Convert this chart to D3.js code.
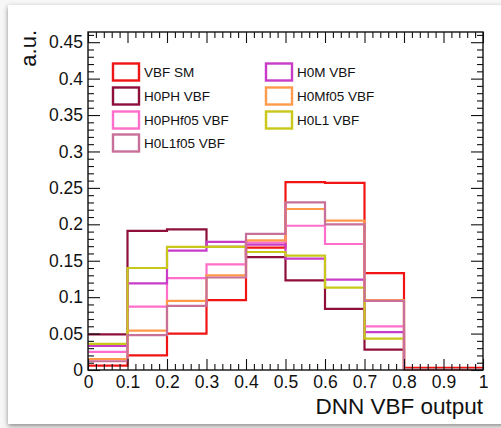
<!DOCTYPE html>
<html>
<head>
<meta charset="utf-8">
<script src="https://cdn.jsdelivr.net/npm/d3@7"></script>
<style>
  body { margin: 0; background: #f2f2f2; }
  svg { display: block; }
  text { font-family: "Liberation Sans", Arial, sans-serif; fill: #111; }
</style>
</head>
<body>
<div class="content"></div>
<script>
var size = {width: 501, height: 428};
var frame = {left: 88, right: 483, top: 32, bottom: 370};

// bin lower edges, width 0.1
var binEdges = [0, 0.1, 0.2, 0.3, 0.4, 0.5, 0.6, 0.7, 0.8, 0.9];
var binWidth = 0.1;

var names = ["VBF SM", "H0PH VBF", "H0PHf05 VBF", "H0L1f05 VBF", "H0M VBF", "H0Mf05 VBF", "H0L1 VBF"];
var colors = ["#f01414", "#8f0f3c", "#ff6ecb", "#c8709a", "#c83cc8", "#ff9a4a", "#c8c81a"];

var vbfSM   = [0.006, 0.020, 0.050, 0.096, 0.168, 0.258, 0.257, 0.133, 0.003, 0.003];
var h0PH    = [0.049, 0.191, 0.193, 0.169, 0.155, 0.123, 0.084, 0.028, 0.001, 0.001];
var h0PHf05 = [0.025, 0.087, 0.126, 0.145, 0.175, 0.198, 0.173, 0.060, 0.001, 0.001];
var h0L1f05 = [0.012, 0.048, 0.088, 0.127, 0.187, 0.230, 0.200, 0.095, 0.001, 0.001];
var h0M     = [0.033, 0.119, 0.164, 0.176, 0.172, 0.153, 0.124, 0.052, 0.001, 0.001];
var h0Mf05  = [0.015, 0.054, 0.095, 0.130, 0.178, 0.221, 0.205, 0.096, 0.001, 0.001];
var h0L1    = [0.036, 0.140, 0.169, 0.169, 0.162, 0.157, 0.113, 0.043, 0.001, 0.001];

var seriesValues = [vbfSM, h0PH, h0PHf05, h0L1f05, h0M, h0Mf05, h0L1];
// drawing order (last on top)
var drawOrder = [0, 1, 2, 4, 5, 6, 3];

var xTicks = [0, 0.1, 0.2, 0.3, 0.4, 0.5, 0.6, 0.7, 0.8, 0.9, 1];
var xTickLabels = ["0", "0.1", "0.2", "0.3", "0.4", "0.5", "0.6", "0.7", "0.8", "0.9", "1"];
var yTicks = [0, 0.05, 0.1, 0.15, 0.2, 0.25, 0.3, 0.35, 0.4, 0.45];
var yTickLabels = ["0", "0.05", "0.1", "0.15", "0.2", "0.25", "0.3", "0.35", "0.4", "0.45"];
var yMax = 0.464;

var chart = d3.select('.content')
    .append('svg')
    .attr('width', size.width)
    .attr('height', size.height);

// card with shadow
var defs = chart.append('defs');
var f = defs.append('filter').attr('id', 'shadow')
    .attr('x', '-5%').attr('y', '-5%').attr('width', '110%').attr('height', '110%');
f.append('feDropShadow').attr('dx', 0).attr('dy', 2).attr('stdDeviation', 2.5)
    .attr('flood-color', '#000').attr('flood-opacity', 0.45);
chart.append('rect').attr('width', size.width).attr('height', size.height).attr('fill', '#f7f7f7');
chart.append('rect')
    .attr('x', 8).attr('y', 5).attr('width', 520).attr('height', 419)
    .attr('fill', '#fff')
    .attr('filter', 'url(#shadow)');

var xScale = d3.scaleLinear().domain([0, 1]).range([frame.left, frame.right]);
var yScale = d3.scaleLinear().domain([0, yMax]).range([frame.bottom, frame.top]);

// histograms
var line = d3.line()
    .x(function(d) { return xScale(d[0]); })
    .y(function(d) { return yScale(d[1]); })
    .curve(d3.curveStepAfter);

var plot = chart.append('g');
drawOrder.forEach(function(i) {
    var vals = seriesValues[i];
    var pts = binEdges.map(function(e, j) { return [e, vals[j]]; });
    pts.push([binEdges[binEdges.length - 1] + binWidth, vals[vals.length - 1]]);
    plot.append('path')
        .attr('d', line(pts))
        .attr('fill', 'none')
        .attr('stroke', colors[i])
        .attr('stroke-width', 2.2);
});

// axes
function styleAxis(g) {
    g.selectAll('.domain').remove();
    g.selectAll('.tick line').attr('stroke', '#111').attr('stroke-width', 1.1);
    g.selectAll('text').attr('font-size', 17.5).attr('fill', '#111')
        .attr('font-family', '"Liberation Sans", Arial, sans-serif');
}
var minorX = d3.range(0, 1.0001, 0.02).filter(function(v) { return Math.abs(v * 10 - Math.round(v * 10)) > 1e-6; });
var minorY = d3.range(0, 0.4601, 0.01).filter(function(v) { return Math.abs(v * 20 - Math.round(v * 20)) > 1e-6; });

chart.append('g').attr('transform', 'translate(0,' + frame.bottom + ')')
    .call(d3.axisBottom(xScale).tickValues(xTicks).tickSize(-11).tickPadding(6)
        .tickFormat(function(d, i) { return xTickLabels[i]; }))
    .call(styleAxis);
chart.append('g').attr('transform', 'translate(0,' + frame.bottom + ')')
    .call(d3.axisBottom(xScale).tickValues(minorX).tickSize(-6).tickFormat(''))
    .call(styleAxis);
chart.append('g').attr('transform', 'translate(0,' + frame.top + ')')
    .call(d3.axisTop(xScale).tickValues(xTicks).tickSize(-11).tickFormat(''))
    .call(styleAxis);
chart.append('g').attr('transform', 'translate(0,' + frame.top + ')')
    .call(d3.axisTop(xScale).tickValues(minorX).tickSize(-6).tickFormat(''))
    .call(styleAxis);

chart.append('g').attr('transform', 'translate(' + frame.left + ',0)')
    .call(d3.axisLeft(yScale).tickValues(yTicks).tickSize(-12).tickPadding(5)
        .tickFormat(function(d, i) { return yTickLabels[i]; }))
    .call(styleAxis);
chart.append('g').attr('transform', 'translate(' + frame.left + ',0)')
    .call(d3.axisLeft(yScale).tickValues(minorY).tickSize(-6).tickFormat(''))
    .call(styleAxis);
chart.append('g').attr('transform', 'translate(' + frame.right + ',0)')
    .call(d3.axisRight(yScale).tickValues(yTicks).tickSize(-12).tickFormat(''))
    .call(styleAxis);
chart.append('g').attr('transform', 'translate(' + frame.right + ',0)')
    .call(d3.axisRight(yScale).tickValues(minorY).tickSize(-6).tickFormat(''))
    .call(styleAxis);

// frame
chart.append('rect')
    .attr('x', frame.left).attr('y', frame.top)
    .attr('width', frame.right - frame.left).attr('height', frame.bottom - frame.top)
    .attr('fill', 'none').attr('stroke', '#111').attr('stroke-width', 1.4);

// axis titles
chart.append('text')
    .attr('x', frame.right).attr('y', 414)
    .attr('text-anchor', 'end')
    .attr('font-size', 22.5)
    .text('DNN VBF output');
chart.append('text')
    .attr('transform', 'translate(36,30) rotate(-90)')
    .attr('text-anchor', 'end')
    .attr('font-size', 22)
    .text('a.u.');

// legend
var legendPos = [[113, 72], [113, 96], [113, 120], [113, 143], [266, 72], [266, 96], [266, 120]];
var legend = chart.append('g');
names.forEach(function(n, i) {
    var p = legendPos[i];
    legend.append('rect')
        .attr('x', p[0]).attr('y', p[1] - 8.5)
        .attr('width', 26).attr('height', 17)
        .attr('fill', 'none').attr('stroke', colors[i]).attr('stroke-width', 2.4);
    legend.append('text')
        .attr('x', p[0] + 31).attr('y', p[1] + 5)
        .attr('font-size', 13.5)
        .text(n);
});
</script>
</body>
</html>
